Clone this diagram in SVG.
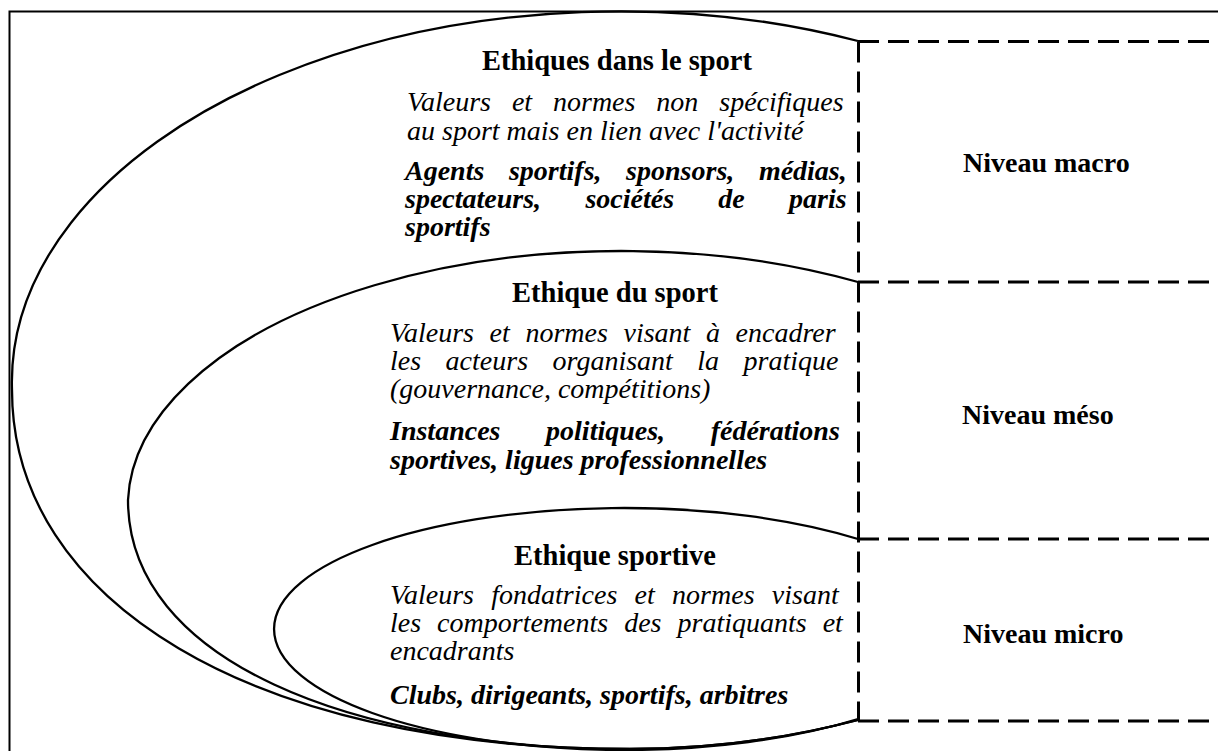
<svg xmlns="http://www.w3.org/2000/svg" width="1218" height="751" viewBox="0 0 1218 751">
<style>
.curve{fill:none;stroke:#000;stroke-width:2.3}
.dash{fill:none;stroke:#000;stroke-width:3;stroke-dasharray:21 9}
text{font-family:"Liberation Serif","Times New Roman",serif;font-size:28px;fill:#000}
.t{font-weight:bold;text-anchor:middle;font-size:28.5px}
.i{font-style:italic}
.bi{font-style:italic;font-weight:bold}
.lvl{font-weight:bold;font-size:28px}
</style>
<rect width="1218" height="751" fill="#fff"/>
<path d="M9.5,760 V11.5 H1230" fill="none" stroke="#000" stroke-width="2"/>
<g id="connectors">
<line class="dash" x1="858.5" y1="41.5" x2="858.5" y2="721"/>
<line class="dash" x1="858" y1="41.5" x2="1218" y2="41.5"/>
<line class="dash" x1="858" y1="282" x2="1218" y2="282"/>
<line class="dash" x1="858" y1="539" x2="1218" y2="539"/>
<line class="dash" x1="858" y1="721" x2="1218" y2="721"/>
</g>
<g id="macro">
<path class="curve" d="M858,41 A608 371 0 0 0 12,390 C12,600 250,749 630,749 C720,749 800,735 858,720"/>
<text class="t" x="617" y="69.5">Ethiques dans le sport</text>
<text class="i" x="407" y="111" word-spacing="13.9">Valeurs et normes non spécifiques</text>
<text class="i" x="407" y="139.5">au sport mais en lien avec l'activité</text>
<text class="bi" x="405" y="180" word-spacing="17.6">Agents sportifs, sponsors, médias,</text>
<text class="bi" x="405" y="208" word-spacing="37.3">spectateurs, sociétés de paris</text>
<text class="bi" x="405" y="236">sportifs</text>
</g>
<g id="meso">
<path class="curve" d="M858,282 A494 255 0 0 0 128,500 C128,660 350,749 630,749 C720,749 800,735 858,720"/>
<text class="t" x="615" y="301.5">Ethique du sport</text>
<text class="i" x="390" y="341.5" word-spacing="8.6">Valeurs et normes visant à encadrer</text>
<text class="i" x="390" y="370" word-spacing="17.5">les acteurs organisant la pratique</text>
<text class="i" x="390" y="398">(gouvernance, compétitions)</text>
<text class="bi" x="390" y="439.5" word-spacing="38.6">Instances politiques, fédérations</text>
<text class="bi" x="390" y="468.5">sportives, ligues professionnelles</text>
</g>
<g id="micro">
<path class="curve" d="M858,539 A350 121 0 1 0 858,719"/>
<text class="t" x="615" y="565">Ethique sportive</text>
<text class="i" x="390" y="603.5" word-spacing="10.3">Valeurs fondatrices et normes visant</text>
<text class="i" x="390" y="632" word-spacing="9">les comportements des pratiquants et</text>
<text class="i" x="390" y="660">encadrants</text>
<text class="bi" x="390" y="703.5">Clubs, dirigeants, sportifs, arbitres</text>
</g>
<g id="level-macro"><text class="lvl" x="963" y="172">Niveau macro</text></g>
<g id="level-meso"><text class="lvl" x="962" y="424">Niveau méso</text></g>
<g id="level-micro"><text class="lvl" x="963" y="643">Niveau micro</text></g>
</svg>
